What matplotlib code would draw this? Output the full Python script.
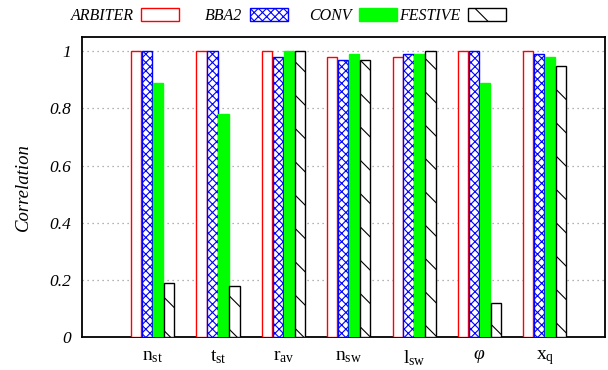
import matplotlib
matplotlib.use('Agg')
from matplotlib import pyplot as plt
import numpy as np

plt.rcParams['font.family'] = ['Liberation Serif', 'DejaVu Serif']
plt.rcParams['mathtext.fontset'] = 'custom'
plt.rcParams['mathtext.rm'] = 'Liberation Serif'
plt.rcParams['mathtext.it'] = 'Liberation Serif:italic'
plt.rcParams['hatch.linewidth'] = 0.8

labels = [r'$\mathrm{n_{st}}$', r'$\mathrm{t_{st}}$', r'$\mathrm{r_{av}}$',
          r'$\mathrm{n_{sw}}$', r'$\mathrm{l_{sw}}$', r'$\varphi$', r'$\mathrm{x_{q}}$']
arbiter = [1.00, 1.00, 1.00, 0.98, 0.98, 1.00, 1.00]
bba2 = [1.00, 1.00, 0.98, 0.97, 0.99, 1.00, 0.99]
conv = [0.89, 0.78, 1.00, 0.99, 0.99, 0.89, 0.98]
festive = [0.19, 0.18, 1.00, 0.97, 1.00, 0.12, 0.95]

fig = plt.figure(figsize=(6.08, 3.70), dpi=100)
ax = fig.add_axes([0.1349, 0.0892, 0.860, 0.811])

x = np.arange(len(labels))
w = 0.155
step = 0.168
bars = []
bars.append(ax.bar(x - 1.5*step, arbiter, w, facecolor='white', edgecolor='red', linewidth=1, label='ARBITER', zorder=3))
bars.append(ax.bar(x - 0.5*step, bba2, w, facecolor='white', edgecolor='blue', hatch='xxxx', linewidth=1, label='BBA2', zorder=3))
bars.append(ax.bar(x + 0.5*step, conv, w, facecolor='#00ff00', edgecolor='#00ff00', linewidth=1, label='CONV', zorder=3))
bars.append(ax.bar(x + 1.5*step, festive, w, facecolor='white', edgecolor='black', hatch='\\', linewidth=1, label='FESTIVE', zorder=3))

ax.set_xlim(-1.08, 6.92)
ax.set_ylim(0, 1.05)
yt = [0, 0.2, 0.4, 0.6, 0.8, 1]
ax.set_yticks(yt)
ax.set_yticklabels(['0', '0.2', '0.4', '0.6', '0.8', '1'], fontstyle='italic', fontsize=12.5)
ax.set_xticks(x)
ax.set_xticklabels(labels, fontsize=14)
ax.tick_params(axis='both', length=0, pad=8)
ax.set_ylabel('Correlation', fontstyle='italic', fontsize=13.5, labelpad=12)
ax.yaxis.grid(True, linestyle=(0, (1, 3)), color='#999999', linewidth=0.9, zorder=0)
ax.set_axisbelow(True)
for s in ax.spines.values():
    s.set_linewidth(1.3)

# gnuplot style key: text right-aligned, sample after it, fixed column width
names = ['ARBITER', 'BBA2', 'CONV', 'FESTIVE']
for i, b in enumerate(bars):
    xr = (179 + i*109) / 608.0
    fig.legend([b], [names[i]], loc='center right', bbox_to_anchor=(xr, 0.957),
               frameon=False, markerfirst=False, borderpad=0, borderaxespad=0,
               handlelength=2.4, handleheight=0.85, handletextpad=0.45,
               prop={'style': 'italic', 'size': 11.5})

fig.savefig('out.png', dpi=100)
